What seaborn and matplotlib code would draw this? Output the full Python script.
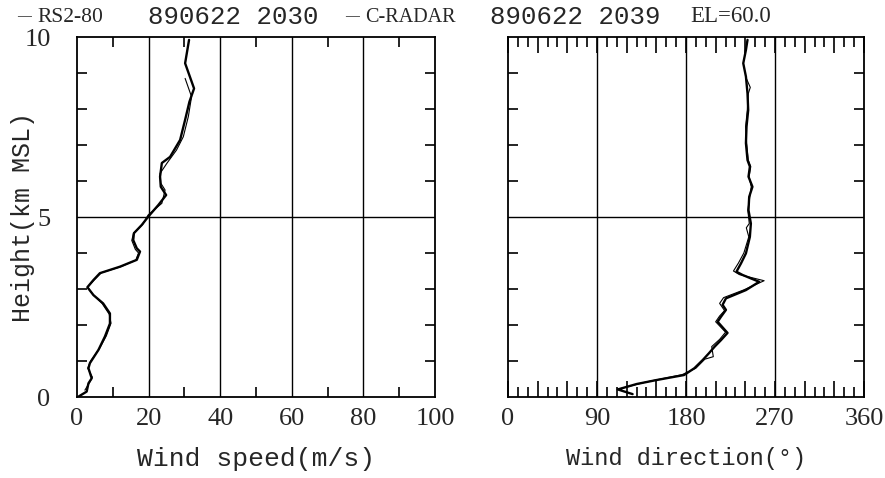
import numpy as np
import pandas as pd
import matplotlib
matplotlib.use("Agg")
import matplotlib.pyplot as plt
import seaborn as sns

# wind speed profile (m/s) vs height (km MSL)
rs_h_spd = [0.01, 0.15, 0.38, 0.52, 0.80, 0.94, 1.31, 1.68, 2.04, 2.32, 2.60, 2.83, 3.05, 3.25,
            3.44, 3.62, 3.81, 4.04, 4.13, 4.36, 4.55, 4.78, 5.01, 5.33, 5.61, 5.84, 6.12, 6.50,
            6.67, 7.14, 7.70, 8.20, 8.57, 9.27, 9.92]
rs_spd = [0.4, 2.7, 3.2, 4.1, 3.2, 3.6, 6.0, 7.8, 9.2, 9.2, 7.3, 4.6, 2.9, 4.6,
          6.4, 12.0, 16.7, 17.6, 16.7, 15.7, 15.9, 18.1, 19.9, 22.7, 24.9, 23.4, 23.2, 23.7,
          26.0, 28.8, 30.2, 31.4, 32.7, 30.2, 31.3]

cr_h_spd = [0.19, 0.40, 0.55, 0.80, 1.00, 1.35, 1.70, 2.05, 2.30, 2.60, 2.85, 3.05, 3.25, 3.45,
            3.62, 3.80, 4.00, 4.10, 4.35, 4.55, 4.80, 5.06, 5.38, 5.75, 5.94, 6.21, 6.49, 6.86,
            7.23, 7.79, 8.34, 8.85]
cr_spd = [2.2, 3.5, 4.3, 3.0, 3.8, 6.3, 8.2, 9.5, 9.0, 7.0, 4.4, 3.0, 4.8, 6.8,
          12.3, 16.4, 17.2, 16.3, 15.3, 15.8, 18.4, 19.9, 23.7, 24.6, 23.4, 23.2, 25.1, 27.8,
          29.7, 31.1, 32.0, 30.2]

# wind direction profile (deg) vs height
rs_h_dir = [0.08, 0.21, 0.36, 0.47, 0.61, 0.80, 1.03, 1.21, 1.40, 1.58, 1.78, 2.09, 2.23, 2.42,
            2.56, 2.74, 2.97, 3.20, 3.39, 3.48, 3.71, 3.99, 4.45, 4.82, 5.19, 5.56, 5.84, 6.12,
            6.40, 6.58, 7.05, 7.51, 7.97, 8.43, 8.90, 9.27, 9.64, 9.92]
rs_dir = [126, 111, 130, 150, 178, 188.5, 197, 203, 209, 215.4, 222, 212, 215.4, 220.4,
          217, 220.4, 240.6, 254, 237.2, 231, 235.6, 240.6, 244.6, 245.6, 243.2, 243.9, 247.2, 243.2,
          244.6, 242.2, 240.6, 241.2, 242.9, 242.2, 240.6, 237.9, 240.6, 242.2]

cr_h_dir = [0.22, 0.42, 0.62, 0.80, 1.05, 1.12, 1.40, 1.60, 1.80, 2.09, 2.25, 2.40, 2.60, 2.76,
            2.97, 3.23, 3.40, 3.50, 3.72, 4.00, 4.45, 4.70, 4.82, 5.19, 5.56, 5.84, 6.12, 6.40,
            6.58, 7.05, 7.51, 7.97, 8.43, 8.60, 8.85]
cr_dir = [112, 140, 176, 190, 199, 207.6, 206, 214, 220, 210, 214, 219, 214, 218,
          238, 259, 234, 228, 233, 238.5, 243.5, 241, 244, 242.5, 244.5, 246, 243.8, 245.5,
          243, 241.3, 240.3, 242, 243, 245, 241]

sns.set_style("ticks")
plt.rcParams["axes.edgecolor"] = "black"
plt.rcParams["axes.linewidth"] = 1.3

fig = plt.figure(figsize=(8.85, 4.78), dpi=100)
ax1 = fig.add_axes([77/885, 81/478, 358/885, 360/478])
ax2 = fig.add_axes([508/885, 81/478, 356/885, 360/478])

serif = "Liberation Serif"
mono = "Liberation Mono"

def profile(ax, x, y, lw):
    d = pd.DataFrame({"x": x, "y": y})
    sns.lineplot(data=d, x="x", y="y", sort=False, estimator=None, color="black", lw=lw, ax=ax)

profile(ax1, rs_spd, rs_h_spd, 1.7)
profile(ax1, cr_spd, cr_h_spd, 0.8)
profile(ax2, rs_dir, rs_h_dir, 1.7)
profile(ax2, cr_dir, cr_h_dir, 0.8)

# left panel: speed
ax1.set_xlim(0, 100)
ax1.set_xticks([0, 20, 40, 60, 80, 100])
ax1.set_xticks([10, 30, 50, 70, 90], minor=True)
for v in [20, 40, 60, 80]:
    ax1.axvline(v, color="black", lw=1)
ax1.set_xlabel("Wind speed(m/s)", family=mono, fontsize=19, labelpad=12)

# right panel: direction
ax2.set_xlim(0, 360)
ax2.set_xticks(np.arange(0, 361, 30))
ax2.set_xticklabels([str(v) if v % 90 == 0 else "" for v in range(0, 361, 30)])
ax2.set_xticks([v for v in range(10, 360, 10) if v % 30 != 0], minor=True)
for v in [90, 180, 270]:
    ax2.axvline(v, color="black", lw=1)
ax2.set_xlabel("Wind direction(°)", family=mono, fontsize=17, labelpad=12)

for ax in (ax1, ax2):
    ax.set_ylim(0, 10)
    ax.set_yticks([0, 5, 10])
    ax.set_yticks([v for v in range(1, 10) if v != 5], minor=True)
    ax.axhline(5, color="black", lw=1)
    ax.tick_params(which="both", direction="in", top=True, right=True, bottom=True, left=True,
                   color="black", width=1.2)
    ax.tick_params(which="minor", length=7)
    ax.tick_params(axis="x", which="major", length=0, pad=8, labelsize=19)
    ax.tick_params(axis="y", which="major", length=0, pad=19, labelsize=19)
    for lab in ax.get_xticklabels() + ax.get_yticklabels():
        lab.set_family(serif)
    ax.set_ylabel("")

ax2.tick_params(axis="x", which="major", length=11.5)
ax2.set_yticklabels([])

ax1.set_ylabel("Height(km MSL)", family=mono, fontsize=18)
ax1.yaxis.set_label_coords(-0.117, 0.5)

# header line acting as legend
ty = 1 - 17/478
fig.text(17/885, ty, "—", family=serif, fontsize=10, va="center")
fig.text(37/885, ty, "RS2-80", family=serif, fontsize=15.5, va="center")
fig.text(148/885, ty, "890622 2030", family=mono, fontsize=18.5, va="center")
fig.text(345/885, ty, "—", family=serif, fontsize=10, va="center")
fig.text(365/885, ty, "C-RADAR", family=serif, fontsize=14.5, va="center")
fig.text(490/885, ty, "890622 2039", family=mono, fontsize=18.5, va="center")
fig.text(690/885, ty, "EL=60.0", family=serif, fontsize=16.5, va="center")

fig.savefig("out.png", dpi=100)
